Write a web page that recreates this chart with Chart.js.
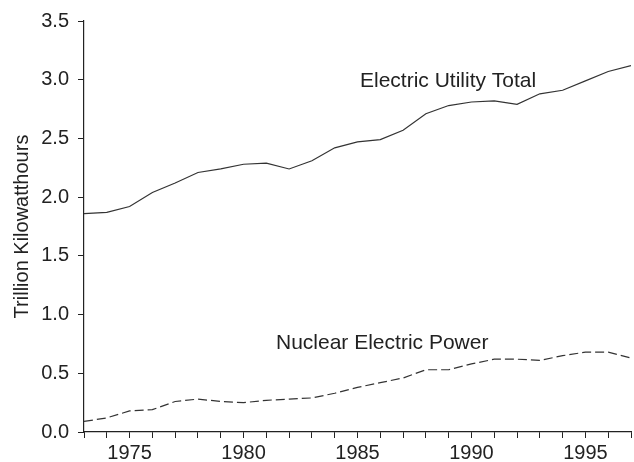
<!DOCTYPE html>
<html>
<head>
<meta charset="utf-8">
<script src="https://cdn.jsdelivr.net/npm/chart.js@4/dist/chart.umd.min.js"></script>
<style>
  html, body { margin: 0; padding: 0; background: #fff; overflow: hidden; }
  #wrap { width: 634px; height: 462px; }
</style>
</head>
<body>
<div id="wrap"><canvas id="c" width="634" height="462"></canvas></div>
<script>
// Net generation, trillion kilowatthours
const years = [1973, 1974, 1975, 1976, 1977, 1978, 1979, 1980, 1981, 1982, 1983, 1984, 1985,
               1986, 1987, 1988, 1989, 1990, 1991, 1992, 1993, 1994, 1995, 1996, 1997];
const utilityTotal = [1.86, 1.87, 1.92, 2.04, 2.12, 2.21, 2.24, 2.28, 2.29, 2.24, 2.31, 2.42, 2.47,
                      2.49, 2.57, 2.71, 2.78, 2.81, 2.82, 2.79, 2.88, 2.91, 2.99, 3.07, 3.12];
const nuclear = [0.09, 0.12, 0.18, 0.19, 0.26, 0.28, 0.26, 0.25, 0.27, 0.28, 0.29, 0.33, 0.38,
                 0.42, 0.46, 0.53, 0.53, 0.58, 0.62, 0.62, 0.61, 0.65, 0.68, 0.68, 0.63];

const xTickLabels = ['1975', '1980', '1985', '1990', '1995'];
const yTickLabels = ['0.0', '0.5', '1.0', '1.5', '2.0', '2.5', '3.0', '3.5'];
const seriesNames = ['Electric Utility Total', 'Nuclear Electric Power'];
const axisTitle = 'Trillion Kilowatthours';

const ink = '#222';
const lineInk = '#333';
const fontFamily = 'Arial, "Liberation Sans", Helvetica, sans-serif';

// Series names written inside the plot next to their lines
const seriesLabels = {
  id: 'seriesLabels',
  afterDatasetsDraw(chart) {
    const ctx = chart.ctx;
    ctx.save();
    ctx.fillStyle = ink;
    ctx.font = '21px ' + fontFamily;
    ctx.textAlign = 'left';
    ctx.textBaseline = 'alphabetic';
    ctx.fillText(seriesNames[0], 360, 87);
    ctx.fillText(seriesNames[1], 276, 349);
    ctx.restore();
  }
};

new Chart(document.getElementById('c'), {
  type: 'line',
  data: {
    datasets: [
      {
        label: seriesNames[0],
        data: years.map((y, i) => ({ x: y, y: utilityTotal[i] })),
        borderColor: lineInk,
        borderWidth: 1.2,
        pointRadius: 0,
        tension: 0,
        fill: false
      },
      {
        label: seriesNames[1],
        data: years.map((y, i) => ({ x: y, y: nuclear[i] })),
        borderColor: lineInk,
        borderWidth: 1.2,
        borderDash: [9, 4],
        pointRadius: 0,
        tension: 0,
        fill: false
      }
    ]
  },
  options: {
    responsive: false,
    animation: false,
    events: [],
    layout: { padding: { top: 19, right: 0, bottom: 0, left: 0 } },
    plugins: {
      legend: { display: false },
      tooltip: { enabled: false }
    },
    scales: {
      x: {
        type: 'linear',
        min: 1973,
        max: 1997,
        afterFit(scale) { scale.height = 30; },
        border: { display: true, color: ink, width: 1.2 },
        grid: {
          drawOnChartArea: false,
          drawTicks: true,
          tickLength: 6,
          color: ink,
          lineWidth: 1
        },
        ticks: {
          stepSize: 1,
          autoSkip: false,
          maxRotation: 0,
          padding: 3,
          color: ink,
          font: { family: fontFamily, size: 20 },
          callback: (v) => xTickLabels.includes(String(v)) ? String(v) : ''
        }
      },
      y: {
        min: 0,
        max: 3.5,
        afterFit(scale) { scale.width = 84; },
        border: { display: true, color: ink, width: 1.2 },
        grid: {
          drawOnChartArea: false,
          drawTicks: true,
          tickLength: 6,
          color: ink,
          lineWidth: 1
        },
        ticks: {
          stepSize: 0.5,
          padding: 9,
          color: ink,
          font: { family: fontFamily, size: 20 },
          callback: (v) => yTickLabels[Math.round(v / 0.5)]
        },
        title: {
          display: true,
          text: axisTitle,
          color: ink,
          font: { family: fontFamily, size: 20 },
          padding: { top: 10, bottom: 0 }
        }
      }
    }
  },
  plugins: [seriesLabels]
});
</script>
</body>
</html>
